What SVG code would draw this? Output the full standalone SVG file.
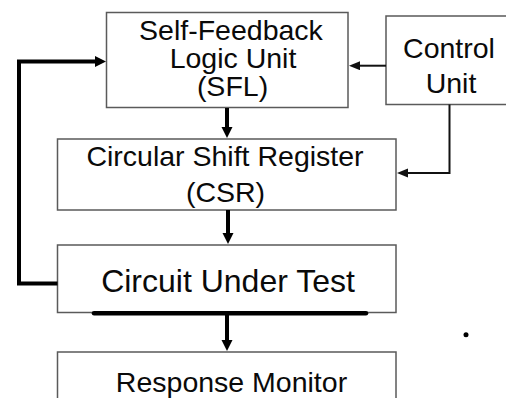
<svg xmlns="http://www.w3.org/2000/svg" width="506" height="398" viewBox="0 0 506 398">
  <defs>
    <style>
      .box { fill: #ffffff; stroke: #5a5a5a; stroke-width: 1.5; }
      .lbl { font-family: "Liberation Sans", Arial, sans-serif; font-size: 28.5px; fill: #0a0a0a; text-anchor: middle; }
      .big { font-size: 32px; }
      .thick { fill: none; stroke: #000000; stroke-width: 4; }
      .thin { fill: none; stroke: #111111; stroke-width: 2; }
    </style>
    <marker id="ah" markerUnits="userSpaceOnUse" markerWidth="12" markerHeight="12" refX="1" refY="5.5" orient="auto">
      <path d="M0,0 L11,5.5 L0,11 z" fill="#000000"/>
    </marker>
    <marker id="ahs" markerUnits="userSpaceOnUse" markerWidth="12" markerHeight="10" refX="1" refY="4.5" orient="auto">
      <path d="M0,0 L11,4.5 L0,9 z" fill="#111111"/>
    </marker>
  </defs>
  <rect width="506" height="398" fill="#ffffff"/>

  <g id="sfl">
    <rect class="box" x="106.5" y="12.5" width="241.5" height="95"/>
    <text class="lbl" x="231" y="39.5">Self-Feedback</text>
    <text class="lbl" x="233" y="67.5">Logic Unit</text>
    <text class="lbl" x="232.5" y="96">(SFL)</text>
  </g>

  <g id="control">
    <rect class="box" x="386" y="16" width="130" height="88.5"/>
    <text class="lbl" x="449" y="57.5">Control</text>
    <text class="lbl" x="451" y="93">Unit</text>
  </g>

  <g id="csr">
    <rect class="box" x="57.5" y="139" width="338.5" height="71"/>
    <text class="lbl" x="225" y="166">Circular Shift Register</text>
    <text class="lbl" x="225.5" y="201.5">(CSR)</text>
  </g>

  <g id="cut">
    <rect class="box" x="57.5" y="245" width="338.5" height="67.5"/>
    <text class="lbl big" x="228" y="292">Circuit Under Test</text>
  </g>

  <g id="monitor">
    <rect class="box" x="57.5" y="352" width="338.5" height="60"/>
    <text class="lbl" x="231.5" y="391.5">Response Monitor</text>
  </g>

  <g id="connectors">
    <polyline class="thick" points="57.5,283.5 19,283.5 19,61.5 96,61.5" marker-end="url(#ah)"/>
    <line class="thick" x1="227" y1="108" x2="227" y2="128" marker-end="url(#ah)"/>
    <line class="thick" x1="228" y1="210" x2="228" y2="234" marker-end="url(#ah)"/>
    <line class="thick" x1="227" y1="313" x2="227" y2="341" marker-end="url(#ah)"/>
    <line class="thin" x1="386" y1="65.7" x2="359" y2="65.7" marker-end="url(#ahs)"/>
    <polyline class="thin" points="449.5,104.5 449.5,173 407,173" marker-end="url(#ahs)"/>
    <line x1="94" y1="313.3" x2="366" y2="313.3" stroke="#000000" stroke-width="4.5" stroke-linecap="round"/>
  </g>

  <circle cx="466" cy="334.7" r="2.5" fill="#000000"/>
</svg>
